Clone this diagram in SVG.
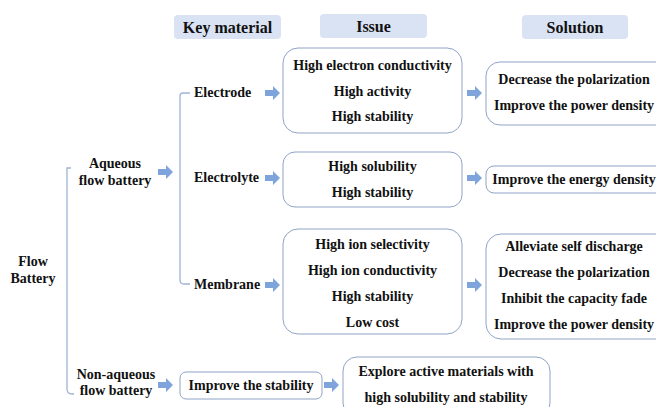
<svg xmlns="http://www.w3.org/2000/svg" width="656" height="407" viewBox="0 0 656 407">
  <style>
    text { font-family: 'Liberation Serif', 'Times New Roman', 'DejaVu Serif', serif; font-weight: 700; font-size: 14px; fill: #111; text-anchor: middle; }
    .hdr { font-size: 16px; }
    .l { text-anchor: start; }
    .head { fill: #dae3f3; }
    .box { fill: #fff; stroke: #8ea3c6; stroke-width: 1; }
    .br { fill: none; stroke: #9fb4d6; stroke-width: 1.3; }
    .arr { fill: #7fa4dc; }
  </style>
  <defs>
    <path id="arrow" d="M0,-3 H8 V-7 L15,0 L8,7 V3 H0 Z"/>
  </defs>

  <!-- column headers -->
  <g id="headers">
    <rect class="head" x="174" y="15" width="107" height="24" rx="4"/>
    <text class="hdr" x="227.5" y="32.5">Key material</text>
    <rect class="head" x="320" y="14" width="107" height="24" rx="4"/>
    <text class="hdr" x="373.5" y="31.5">Issue</text>
    <rect class="head" x="522" y="15" width="106" height="24" rx="4"/>
    <text class="hdr" x="575" y="32.5">Solution</text>
  </g>

  <!-- connectors: brackets and block arrows -->
  <g id="connectors">
    <path class="br" d="M71,168 H67 V389 Q67,394 72,394 H74"/>
    <path class="br" d="M190,93 H183 Q180,93 180,96 V280 Q180,284 184,284 H190"/>
    <use href="#arrow" class="arr" x="158" y="172"/>
    <use href="#arrow" class="arr" x="158" y="385"/>
    <use href="#arrow" class="arr" x="265" y="93"/>
    <use href="#arrow" class="arr" x="265" y="178"/>
    <use href="#arrow" class="arr" x="265" y="285"/>
    <use href="#arrow" class="arr" x="467" y="93"/>
    <use href="#arrow" class="arr" x="467" y="178"/>
    <use href="#arrow" class="arr" x="467" y="285"/>
    <use href="#arrow" class="arr" x="324" y="385"/>
  </g>

  <g id="flow-battery">
    <text x="33" y="266">Flow</text>
    <text x="33" y="283">Battery</text>
  </g>

  <g id="aqueous">
    <text x="115" y="168">Aqueous</text>
    <text x="115" y="185">flow battery</text>
  </g>

  <g id="non-aqueous">
    <text x="116" y="379">Non-aqueous</text>
    <text x="116" y="395">flow battery</text>
  </g>

  <g id="electrode">
    <text class="l" x="194" y="97">Electrode</text>
  </g>
  <g id="electrolyte">
    <text class="l" x="194" y="182">Electrolyte</text>
  </g>
  <g id="membrane">
    <text class="l" x="194" y="289">Membrane</text>
  </g>

  <g id="issue-electrode">
    <rect class="box" x="283" y="48" width="179" height="85" rx="15"/>
    <text x="372.5" y="70">High electron conductivity</text>
    <text x="372.5" y="96">High activity</text>
    <text x="372.5" y="121">High stability</text>
  </g>

  <g id="issue-electrolyte">
    <rect class="box" x="283" y="152" width="179" height="55" rx="12"/>
    <text x="372.5" y="171">High solubility</text>
    <text x="372.5" y="197">High stability</text>
  </g>

  <g id="issue-membrane">
    <rect class="box" x="283" y="229" width="179" height="105" rx="15"/>
    <text x="372.5" y="249">High ion selectivity</text>
    <text x="372.5" y="275">High ion conductivity</text>
    <text x="372.5" y="301">High stability</text>
    <text x="372.5" y="327">Low cost</text>
  </g>

  <g id="solution-electrode">
    <rect class="box" x="486" y="62" width="185" height="63" rx="14"/>
    <text x="574" y="84">Decrease the polarization</text>
    <text x="574" y="110">Improve the power density</text>
  </g>

  <g id="solution-electrolyte">
    <rect class="box" x="486" y="166" width="185" height="27" rx="8"/>
    <text x="574" y="184">Improve the energy density</text>
  </g>

  <g id="solution-membrane">
    <rect class="box" x="486" y="234" width="185" height="105" rx="15"/>
    <text x="574" y="251">Alleviate self discharge</text>
    <text x="574" y="277">Decrease the polarization</text>
    <text x="574" y="303">Inhibit the capacity fade</text>
    <text x="574" y="329">Improve the power density</text>
  </g>

  <g id="issue-non-aqueous">
    <rect class="box" x="180" y="372" width="142" height="27" rx="6"/>
    <text x="251" y="390">Improve the stability</text>
  </g>

  <g id="solution-non-aqueous">
    <rect class="box" x="343" y="357" width="207" height="60" rx="14"/>
    <text x="446" y="376">Explore active materials with</text>
    <text x="446" y="402">high solubility and stability</text>
  </g>
</svg>
